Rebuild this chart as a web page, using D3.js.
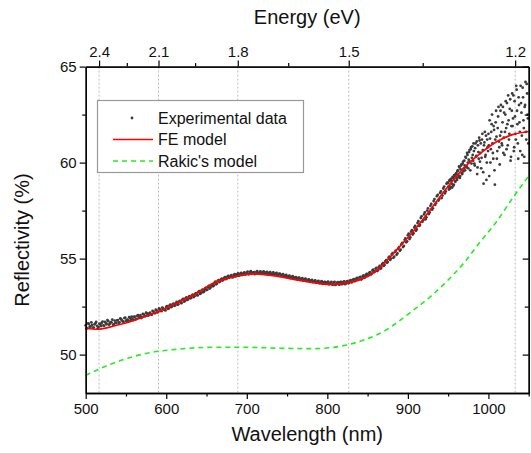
<!DOCTYPE html>
<html>
<head>
<meta charset="utf-8">
<script src="https://cdn.jsdelivr.net/npm/d3@7"></script>
<style>
  body { margin: 0; background: #fff; }
  svg { display: block; font-family: 'Liberation Sans', Arial, sans-serif; }
</style>
</head>
<body>
<svg id="chart" width="531" height="453"></svg>
<script>
const WIDTH = 531;
const HEIGHT = 453;
const HC = 1239.84; // eV*nm

// experimental reflectivity (%), every 2 nm from 500 to 948 nm
const EXP_EVEN = [
  51.52, 51.38, 51.60, 51.47, 51.55, 51.41, 51.63, 51.50, 51.44, 51.58,
  51.66, 51.52, 51.70, 51.58, 51.74, 51.61, 51.68, 51.55, 51.77, 51.64,
  51.80, 51.68, 51.84, 51.73, 51.90, 51.76, 51.82, 51.95, 51.79, 51.87,
  51.97, 51.84, 52.02, 51.92, 52.06, 51.95, 52.10, 52.00, 52.14, 52.04,
  52.18, 52.08, 52.25, 52.15, 52.30, 52.22, 52.36, 52.26, 52.42, 52.33,
  52.48, 52.38, 52.55, 52.47, 52.62, 52.54, 52.68, 52.60, 52.76, 52.70,
  52.86, 52.76, 52.93, 52.85, 53.00, 52.93, 53.08, 53.00, 53.16, 53.10,
  53.26, 53.16, 53.34, 53.25, 53.42, 53.36, 53.52, 53.44, 53.62, 53.56,
  53.75, 53.66, 53.84, 53.78, 53.92, 53.86, 53.99, 53.93, 54.06, 54.00,
  54.10, 54.02, 54.15, 54.07, 54.18, 54.11, 54.22, 54.14, 54.24, 54.17,
  54.27, 54.18, 54.30, 54.21, 54.28, 54.19, 54.31, 54.23, 54.29, 54.20,
  54.30, 54.21, 54.28, 54.18, 54.27, 54.20, 54.25, 54.16, 54.23, 54.14,
  54.20, 54.10, 54.17, 54.06, 54.13, 54.03, 54.09, 53.99, 54.05, 53.96,
  54.02, 53.92, 53.99, 53.88, 53.96, 53.85, 53.93, 53.83, 53.89, 53.80,
  53.87, 53.77, 53.84, 53.74, 53.81, 53.72, 53.79, 53.68, 53.77, 53.69,
  53.77, 53.66, 53.75, 53.65, 53.76, 53.63, 53.74, 53.66, 53.77, 53.67,
  53.78, 53.67, 53.80, 53.71, 53.84, 53.76, 53.90, 53.82, 53.96, 53.88,
  54.02, 53.91, 54.08, 54.00, 54.16, 54.09, 54.26, 54.17, 54.38, 54.29,
  54.48, 54.35, 54.56, 54.47, 54.70, 54.62, 54.86, 54.78, 55.05, 54.93,
  55.22, 55.04, 55.35, 55.20, 55.52, 55.41, 55.75, 55.60, 55.98, 55.85,
  56.22, 56.02, 56.40, 56.25, 56.62, 56.45, 56.85, 56.70, 57.12, 56.92,
  57.30, 57.05, 57.50, 57.32, 57.75, 57.55, 58.00, 57.80, 58.25, 58.02,
  58.42, 58.15, 58.65, 58.40, 58.90
];

// experimental reflectivity (%), every 2 nm from 501 to 949 nm
const EXP_ODD = [
  51.35, 51.62, 51.45, 51.68, 51.40, 51.57, 51.70, 51.37, 51.61, 51.49,
  51.72, 51.50, 51.64, 51.80, 51.56, 51.69, 51.82, 51.59, 51.66, 51.78,
  51.66, 51.88, 51.78, 51.70, 51.93, 51.81, 51.74, 51.90, 51.98, 51.80,
  51.98, 51.86, 52.06, 51.96, 51.90, 52.12, 52.00, 52.18, 52.04, 52.15,
  52.10, 52.28, 52.18, 52.34, 52.20, 52.40, 52.29, 52.45, 52.35, 52.30,
  52.52, 52.40, 52.60, 52.50, 52.66, 52.56, 52.74, 52.62, 52.80, 52.68,
  52.90, 52.78, 52.98, 52.88, 53.05, 52.95, 53.12, 53.04, 53.20, 53.08,
  53.30, 53.20, 53.38, 53.30, 53.48, 53.38, 53.58, 53.50, 53.66, 53.60,
  53.80, 53.70, 53.88, 53.82, 53.96, 53.90, 54.04, 53.96, 54.10, 54.04,
  54.14, 54.04, 54.19, 54.10, 54.23, 54.13, 54.26, 54.16, 54.28, 54.20,
  54.32, 54.20, 54.34, 54.24, 54.30, 54.22, 54.35, 54.21, 54.33, 54.24,
  54.33, 54.22, 54.31, 54.20, 54.30, 54.18, 54.28, 54.19, 54.26, 54.16,
  54.22, 54.12, 54.19, 54.08, 54.15, 54.06, 54.11, 54.02, 54.08, 53.98,
  54.04, 53.94, 54.01, 53.90, 53.98, 53.88, 53.95, 53.85, 53.92, 53.82,
  53.89, 53.79, 53.86, 53.76, 53.84, 53.73, 53.82, 53.71, 53.79, 53.70,
  53.80, 53.68, 53.78, 53.64, 53.79, 53.66, 53.77, 53.64, 53.79, 53.69,
  53.81, 53.70, 53.83, 53.74, 53.88, 53.79, 53.93, 53.85, 53.99, 53.91,
  54.05, 53.95, 54.12, 54.04, 54.20, 54.12, 54.30, 54.21, 54.42, 54.33,
  54.52, 54.40, 54.62, 54.52, 54.76, 54.67, 54.92, 54.82, 55.10, 55.00,
  55.28, 55.10, 55.42, 55.27, 55.60, 55.46, 55.82, 55.66, 56.05, 55.90,
  56.30, 56.10, 56.48, 56.32, 56.70, 56.52, 56.95, 56.75, 57.20, 57.00,
  57.40, 57.15, 57.62, 57.40, 57.85, 57.62, 58.10, 57.90, 58.32, 58.10,
  58.50, 58.28, 58.75, 58.50, 58.95
];

// experimental reflectivity (%), every 1 nm from 950 to 1049 nm
const EXP_TAIL = [
  58.95, 58.60, 59.10, 58.75, 59.05, 58.70, 59.20, 58.85, 59.30, 59.00,
  59.45, 59.10, 59.60, 59.25, 59.75, 59.30, 59.85, 59.45, 59.95, 59.55,
  60.10, 59.60, 60.25, 59.80, 60.40, 59.70, 60.55, 60.05, 60.70, 59.95,
  60.85, 60.10, 60.60, 59.85, 61.00, 60.35, 59.40, 60.90, 60.20, 61.15,
  60.50, 59.70, 61.20, 60.65, 58.90, 61.05, 60.30, 61.40, 60.00, 60.80,
  61.50, 59.30, 61.25, 60.70, 62.00, 61.00, 60.20, 61.70, 58.85, 62.10,
  61.35, 60.60, 62.40, 61.10, 59.90, 62.70, 61.60, 60.90, 62.90, 61.30,
  60.40, 62.50, 61.80, 63.10, 60.90, 62.20, 61.50, 63.30, 60.30, 62.70,
  61.90, 63.50, 60.80, 62.40, 61.20, 63.80, 62.00, 60.20, 63.00, 61.60,
  64.00, 62.60, 60.40, 63.40, 61.80, 62.90, 64.20, 61.20, 63.60, 62.30
];

// experimental reflectivity (%), every 1 nm from 950.5 to 1049.5 nm
const EXP_TAIL_B = [
  58.75, 59.05, 58.65, 59.15, 58.90, 59.25, 58.80, 59.35, 59.05, 59.40,
  59.20, 59.55, 59.35, 59.80, 59.20, 59.65, 59.90, 59.40, 60.05, 59.70,
  59.85, 60.30, 59.75, 60.50, 60.00, 60.15, 60.65, 59.60, 60.80, 60.25,
  60.40, 61.00, 59.95, 60.75, 60.30, 61.10, 59.75, 60.55, 61.30, 60.05,
  61.00, 60.25, 61.50, 59.50, 60.90, 61.60, 60.40, 59.10, 61.20, 60.60,
  60.90, 62.20, 60.00, 61.60, 62.50, 60.50, 61.90, 59.60, 61.20, 62.70,
  60.20, 61.80, 62.90, 60.80, 61.40, 63.00, 61.00, 62.10, 60.50, 62.60,
  61.60, 63.20, 60.70, 62.00, 63.50, 61.20, 62.80, 60.10, 61.90, 63.60,
  62.30, 60.60, 63.20, 61.50, 64.00, 62.70, 61.00, 63.40, 62.10, 60.60,
  63.10, 61.40, 63.90, 62.20, 60.30, 63.00, 61.60, 64.10, 62.50, 61.00
];

// FE model curve
const FE_WL = [500, 515, 535, 555, 575, 590, 617, 638, 658, 671, 688, 708, 725, 741,
  762, 783, 803, 820, 836, 853, 865, 886, 907, 928, 948, 969, 990, 1010, 1031, 1050];
const FE_VAL = [51.36, 51.32, 51.49, 51.71, 52.01, 52.24, 52.76, 53.19, 53.71, 53.92,
  54.09, 54.20, 54.15, 54.06, 53.89, 53.75, 53.66, 53.71, 53.85, 54.15, 54.52, 55.45,
  56.44, 57.55, 58.66, 59.70, 60.48, 61.09, 61.47, 61.62];

// Rakic's model curve
const RAKIC_WL = [500, 534, 576, 617, 658, 700, 741, 783, 824, 845, 865, 907, 928,
  948, 969, 990, 1010, 1030, 1050];
const RAKIC_VAL = [48.92, 49.55, 50.07, 50.29, 50.38, 50.38, 50.33, 50.31, 50.50,
  50.76, 51.10, 52.32, 53.02, 53.80, 54.75, 55.88, 56.92, 58.15, 59.30];

const Y_TICKS = [50, 55, 60, 65];
const Y_MINOR = [52.5, 57.5, 62.5];
const X_TICKS = [500, 600, 700, 800, 900, 1000];
const X_MINOR = [550, 650, 750, 850, 950, 1050];
const E_TICKS = [2.4, 2.1, 1.8, 1.5, 1.2];
const E_MINOR = [2.25, 1.95, 1.65, 1.35];

const LEGEND = ['Experimental data', 'FE model', "Rakic's model"];

function drawChart() {
  const margin = {top: 66.6, right: 2.3, bottom: 60, left: 85.7};
  const width = WIDTH - margin.left - margin.right;
  const height = HEIGHT - margin.top - margin.bottom;

  const x = d3.scaleLinear().domain([500, 1050]).range([0, width]);
  const y = d3.scaleLinear().domain([48, 65]).range([height, 0]);

  const svg = d3.select('#chart');
  const g = svg.append('g')
    .attr('transform', `translate(${margin.left}, ${margin.top})`);

  // energy grid lines
  g.selectAll('.grid')
    .data(E_TICKS)
    .join('line')
    .attr('class', 'grid')
    .attr('x1', (e) => x(HC / e))
    .attr('x2', (e) => x(HC / e))
    .attr('y1', 0)
    .attr('y2', height)
    .attr('stroke', '#bdbdbd')
    .attr('stroke-width', 1)
    .attr('stroke-dasharray', '2,2');

  // data
  const expData = EXP_EVEN.map((v, i) => [500 + 2 * i, v])
    .concat(EXP_ODD.map((v, i) => [501 + 2 * i, v]))
    .concat(EXP_TAIL.map((v, i) => [950 + i, v]))
    .concat(EXP_TAIL_B.map((v, i) => [950.5 + i, v]));

  g.selectAll('.dot')
    .data(expData)
    .join('circle')
    .attr('class', 'dot')
    .attr('cx', (d) => x(d[0]))
    .attr('cy', (d) => y(d[1]))
    .attr('r', 1.4)
    .attr('fill', '#3c3c3c');

  const line = d3.line()
    .x((d) => x(d[0]))
    .y((d) => y(d[1]))
    .curve(d3.curveMonotoneX);

  g.append('path')
    .datum(RAKIC_WL.map((w, i) => [w, RAKIC_VAL[i]]))
    .attr('fill', 'none')
    .attr('stroke', '#22ee22')
    .attr('stroke-width', 1.6)
    .attr('stroke-dasharray', '5,4')
    .attr('d', line);

  g.append('path')
    .datum(FE_WL.map((w, i) => [w, FE_VAL[i]]))
    .attr('fill', 'none')
    .attr('stroke', '#ff0000')
    .attr('stroke-width', 1.7)
    .attr('d', line);

  // axes
  const fmtE = (w) => d3.format('.1f')(HC / w);

  const axes = [
    g.append('g').attr('transform', `translate(0, ${height})`)
      .call(d3.axisBottom(x).tickValues(X_TICKS).tickFormat(d3.format('d'))
        .tickSize(6).tickSizeOuter(0).tickPadding(4)),
    g.append('g').attr('transform', `translate(0, ${height})`)
      .call(d3.axisBottom(x).tickValues(X_MINOR).tickSize(3.5).tickSizeOuter(0).tickFormat('')),
    g.append('g')
      .call(d3.axisLeft(y).tickValues(Y_TICKS).tickSize(6).tickSizeOuter(0).tickPadding(3)),
    g.append('g')
      .call(d3.axisLeft(y).tickValues(Y_MINOR).tickSize(3.5).tickSizeOuter(0).tickFormat('')),
    g.append('g')
      .call(d3.axisTop(x).tickValues(E_TICKS.map((e) => HC / e)).tickFormat(fmtE)
        .tickSize(6).tickSizeOuter(0).tickPadding(4)),
    g.append('g')
      .call(d3.axisTop(x).tickValues(E_MINOR.map((e) => HC / e)).tickSize(3.5)
        .tickSizeOuter(0).tickFormat('')),
    g.append('g').attr('transform', `translate(${width}, 0)`)
      .call(d3.axisLeft(y).tickValues(Y_TICKS).tickSize(6).tickSizeOuter(0).tickFormat('')),
    g.append('g').attr('transform', `translate(${width}, 0)`)
      .call(d3.axisLeft(y).tickValues(Y_MINOR).tickSize(4).tickSizeOuter(0).tickFormat('')),
  ];

  axes.forEach((a) => {
    a.select('.domain').attr('stroke', '#000').attr('stroke-width', 1.3);
    a.selectAll('.tick line').attr('stroke', '#000').attr('stroke-width', 1.2);
    a.selectAll('.tick text')
      .attr('fill', '#111')
      .style('font-size', '15px')
      .style('font-family', "'Liberation Sans', Arial, sans-serif");
  });
  // right axis ticks point inward
  axes[6].selectAll('.tick line').attr('x2', -6);
  axes[7].selectAll('.tick line').attr('x2', -4);

  // titles
  g.append('text')
    .attr('x', width / 2)
    .attr('y', height + 48)
    .attr('text-anchor', 'middle')
    .style('font-size', '20px')
    .attr('fill', '#111')
    .text('Wavelength (nm)');

  g.append('text')
    .attr('x', width / 2)
    .attr('y', -43)
    .attr('text-anchor', 'middle')
    .style('font-size', '20px')
    .attr('fill', '#111')
    .text('Energy (eV)');

  g.append('text')
    .attr('transform', 'rotate(-90)')
    .attr('x', -(240 - margin.top))
    .attr('y', -margin.left + 29)
    .attr('text-anchor', 'middle')
    .style('font-size', '20px')
    .attr('fill', '#111')
    .text('Reflectivity (%)');

  // legend
  const lg = svg.append('g').attr('transform', 'translate(97, 100)');
  lg.append('rect')
    .attr('x', 0.5)
    .attr('y', 0.5)
    .attr('width', 206)
    .attr('height', 72)
    .attr('fill', '#fff')
    .attr('stroke', '#999')
    .attr('stroke-width', 1.2);

  const rows = lg.selectAll('.item')
    .data(LEGEND)
    .join('g')
    .attr('class', 'item')
    .attr('transform', (_, i) => `translate(0, ${18 + i * 21.5})`);

  rows.append('text')
    .attr('x', 61)
    .attr('y', 5.5)
    .style('font-size', '16px')
    .attr('fill', '#111')
    .text((d) => d);

  rows.filter((_, i) => i === 0).append('circle')
    .attr('cx', 35)
    .attr('cy', 0)
    .attr('r', 1.4)
    .attr('fill', '#3c3c3c');
  rows.filter((_, i) => i === 1).append('line')
    .attr('x1', 16).attr('x2', 56)
    .attr('stroke', '#ff0000').attr('stroke-width', 1.6);
  rows.filter((_, i) => i === 2).append('line')
    .attr('x1', 16).attr('x2', 56)
    .attr('stroke', '#22ee22').attr('stroke-width', 1.6)
    .attr('stroke-dasharray', '5,4');
}

drawChart();
</script>
</body>
</html>
